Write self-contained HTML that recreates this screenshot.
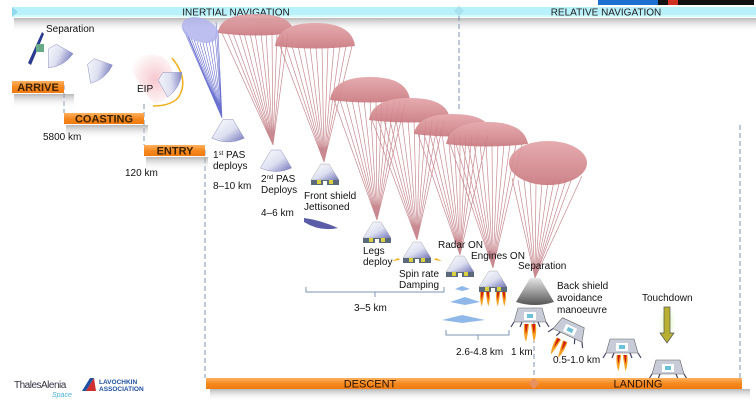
<!DOCTYPE html>
<html><head><meta charset="utf-8"><style>
html,body{margin:0;padding:0;background:#fff;}
svg{display:block;font-family:"Liberation Sans",Arial,sans-serif;}
</style></head><body>
<svg width="756" height="409" viewBox="0 0 756 409" xmlns="http://www.w3.org/2000/svg">
<defs>
<linearGradient id="cap" x1="0" y1="0" x2="1" y2="1">
<stop offset="0" stop-color="#ffffff"/><stop offset="0.55" stop-color="#dcdff0"/><stop offset="1" stop-color="#6f72b8"/></linearGradient>
<linearGradient id="grey" x1="0" y1="0" x2="0" y2="1">
<stop offset="0" stop-color="#e6e6e6"/><stop offset="1" stop-color="#555"/></linearGradient>
<linearGradient id="cano" x1="0" y1="0" x2="0" y2="1">
<stop offset="0" stop-color="#e3a3a7"/><stop offset="1" stop-color="#c9777e"/></linearGradient>
<linearGradient id="orb" x1="0" y1="0" x2="0" y2="1">
<stop offset="0" stop-color="#ffb060"/><stop offset="0.5" stop-color="#f58a1f"/><stop offset="1" stop-color="#f07a10"/></linearGradient>
<linearGradient id="shad" x1="0" y1="0" x2="0" y2="1">
<stop offset="0" stop-color="#999" stop-opacity="0.7"/><stop offset="1" stop-color="#fff" stop-opacity="0"/></linearGradient>
<radialGradient id="eip" cx="0.6" cy="0.5" r="0.6"><stop offset="0" stop-color="#f6c8cf"/><stop offset="1" stop-color="#fff"/></radialGradient>
<radialGradient id="glow"><stop offset="0" stop-color="#c8f08a"/><stop offset="1" stop-color="#fff" stop-opacity="0"/></radialGradient>
<g id="capsule"><path d="M-4,-10 L4,-10 L13,5 Q0,11 -13,5 Z" fill="url(#cap)" stroke="#8a8cc0" stroke-width="0.4"/></g>
<g id="capleg"><path d="M-4,-12 L4,-12 L14,4 L-14,4 Z" fill="url(#cap)" stroke="#999" stroke-width="0.4"/><rect x="-14" y="4" width="28" height="5" fill="#5a6a7a"/><rect x="-8" y="4" width="4" height="4" fill="#d8d040"/><rect x="4" y="4" width="4" height="4" fill="#d8d040"/><rect x="-2" y="5" width="4" height="5" fill="#fff"/></g>
<g id="lander"><path d="M-12,-8 L12,-8 L16,6 L-16,6 Z" fill="#c8ccd8" stroke="#666" stroke-width="0.6"/><rect x="-6" y="-4" width="12" height="8" fill="#fff"/><rect x="-3" y="-2" width="6" height="4" fill="#6cc0d8"/><path d="M-16,6 l-3,5 M16,6 l3,5 M-8,6 l-2,5 M8,6 l2,5" stroke="#446" stroke-width="1.2"/></g>
<g id="flame"><path d="M-6,0 Q-7,10 -4,18 Q-2,10 -1,0 Z M1,0 Q2,10 4,18 Q7,10 6,0 Z" fill="#f5a020"/><path d="M-5,0 Q-5,6 -4,10 Q-3,6 -2,0Z M2,0 Q3,6 4,10 Q5,6 5,0Z" fill="#d02010"/></g>
</defs>

<rect x="598" y="0" width="156" height="5" fill="#111"/><rect x="598" y="0" width="60" height="5" fill="#1a6fd0"/><rect x="668" y="0" width="10" height="5" fill="#d03020"/>

<rect x="14" y="18" width="742" height="14" fill="url(#shad)"/>
<rect x="12" y="7" width="744" height="10" fill="#b8f0fb"/>
<rect x="12" y="15" width="744" height="2" fill="#dff" opacity="0.7"/>
<path d="M12,7 L18,12 L12,17Z" fill="#8fd8ee"/>
<path d="M459,6 L464,11 L459,16 L454,11Z" fill="#a8e2ef"/>
<text x="236" y="15.5" font-size="10" text-anchor="middle" fill="#222">INERTIAL NAVIGATION</text>
<text x="606" y="15.5" font-size="10" text-anchor="middle" fill="#222">RELATIVE NAVIGATION</text>

<g stroke="#7d95b5" stroke-width="1" stroke-dasharray="5,3" fill="none">
<path d="M64,85 V113"/><path d="M144,104 V145"/><path d="M205,150 V378"/><path d="M459,16 V110"/><path d="M740,125 V378"/><path d="M534,322 V378"/>
</g>

<rect x="14" y="94" width="60" height="14" fill="url(#shad)"/>
<rect x="66" y="125" width="82" height="14" fill="url(#shad)"/>
<rect x="146" y="157" width="62" height="14" fill="url(#shad)"/>
<rect x="12" y="81" width="52" height="12" fill="url(#orb)"/>
<text x="38" y="91" font-size="11" font-weight="bold" text-anchor="middle" fill="#3a2200">ARRIVE</text>
<rect x="64" y="113" width="80" height="11" fill="url(#orb)"/>
<text x="104" y="122.5" font-size="11" font-weight="bold" text-anchor="middle" fill="#3a2200">COASTING</text>
<rect x="144" y="145" width="61" height="11" fill="url(#orb)"/>
<text x="175" y="154.5" font-size="11" font-weight="bold" text-anchor="middle" fill="#3a2200">ENTRY</text>

<path d="M28,63 L42,32 L44,34 L31,65Z" fill="#2a3a90"/>
<rect x="36" y="44" width="8" height="8" fill="#6a8" />
<use href="#capsule" transform="translate(58,56) rotate(-30) scale(1.1)"/>
<use href="#capsule" transform="translate(98,70) rotate(-40) scale(1.1)"/>
<path d="M128,60 Q165,45 172,70 Q178,98 155,104 Q140,90 128,60Z" fill="url(#eip)"/>
<path d="M172,58 Q190,80 178,98 Q170,106 153,106" stroke="#f0b020" stroke-width="1.5" fill="none"/>
<use href="#capsule" transform="translate(170,82) rotate(-60) scale(1.1)"/>

<g stroke="#6a70d0" stroke-width="0.6" fill="none">
<path d="M183,28 L222,118 M186,32 L222,118 M188,35 L222,118 M191,38 L222,118 M194,40 L222,118 M197,42 L222,118 M200,43 L222,118 M203,43 L222,118 M206,42 L222,118 M209,40 L222,118 M212,38 L222,118 M215,34 L222,118 M218,30 L222,118 M216,22 L222,118"/>
</g>
<ellipse cx="200" cy="30" rx="19" ry="12" fill="#b0b4ec" opacity="0.85" transform="rotate(20 200 30)"/>
<use href="#capsule" transform="translate(228,132) scale(1.25)"/>

<g stroke="#c88a90" stroke-width="0.7" fill="none">
<path d="M222,33L273,145M228,33L273,145M233,33L273,145M239,33L273,145M244,33L273,145M250,33L273,145M255,33L273,145M261,33L273,145M266,33L273,145M272,33L273,145M277,33L273,145M283,33L273,145M288,33L273,145"/>
<path d="M280,46L324,162M286,46L324,162M292,46L324,162M298,46L324,162M304,46L324,162M310,46L324,162M316,46L324,162M322,46L324,162M328,46L324,162M334,46L324,162M340,46L324,162M346,46L324,162M352,46L324,162"/>
<path d="M334,100L377,220M340,100L377,220M346,100L377,220M352,100L377,220M358,100L377,220M364,100L377,220M370,100L377,220M376,100L377,220M382,100L377,220M388,100L377,220M394,100L377,220M400,100L377,220M406,100L377,220"/>
<path d="M372,120L417,240M378,120L417,240M384,120L417,240M390,120L417,240M396,120L417,240M402,120L417,240M408,120L417,240M414,120L417,240M420,120L417,240M426,120L417,240M432,120L417,240M438,120L417,240M444,120L417,240"/>
<path d="M418,134L460,255M424,134L460,255M430,134L460,255M436,134L460,255M442,134L460,255M448,134L460,255M454,134L460,255M460,134L460,255M466,134L460,255M472,134L460,255M478,134L460,255M488,134L460,255"/>
<path d="M450,144L493,268M456,144L493,268M462,144L493,268M468,144L493,268M474,144L493,268M480,144L493,268M486,144L493,268M492,144L493,268M498,144L493,268M504,144L493,268M510,144L493,268M516,144L493,268M522,144L493,268"/>
<path d="M512,178L535,278M518,180L535,278M524,180L535,278M530,181L535,278M536,182L535,278M542,182L535,278M548,182L535,278M554,181L535,278M560,180L535,278M566,180L535,278M572,178L535,278M582,176L535,278"/>
</g>
<g fill="url(#cano)" opacity="0.9">
<path d="M218,33 Q220,14 256,14 Q292,14 294,33 Q256,38 218,33Z"/>
<path d="M275,46 Q278,23 315,23 Q352,23 355,46 Q315,51 275,46Z"/>
<path d="M330,100 Q333,77 370,77 Q407,77 410,100 Q370,105 330,100Z"/>
<path d="M369,120 Q372,98 410,98 Q448,98 450,120 Q410,125 369,120Z"/>
<path d="M414,134 Q417,114 453,114 Q489,114 492,134 Q453,139 414,134Z"/>
<path d="M446,144 Q450,122 487,122 Q524,122 528,144 Q487,149 446,144Z"/>
<ellipse cx="548" cy="163" rx="39" ry="22"/>
</g>

<use href="#capsule" transform="translate(276,162) scale(1.2)"/>
<use href="#capleg" transform="translate(325,176)"/>
<path d="M304,218 Q320,220 338,228 Q320,232 304,222Z" fill="#5a5ca8"/>
<use href="#capleg" transform="translate(377,234)"/>
<use href="#capleg" transform="translate(417,254)"/>
<path d="M398,258 l-6,3 l8,-1Z M436,258 l6,3 l-8,-1Z" fill="#f0b020"/>
<use href="#capleg" transform="translate(460,268)"/>
<use href="#capleg" transform="translate(493,283)"/>
<use href="#flame" transform="translate(485,292) scale(0.8)"/>
<use href="#flame" transform="translate(501,292) scale(0.8)"/>
<path d="M530,278 L540,278 L554,302 Q535,308 516,302Z" fill="url(#grey)"/>
<g fill="#8fb8e8"><path d="M455,289 L462,286 L470,289 L462,291Z"/><path d="M450,302 L465,297 L480,302 L465,305Z"/><path d="M442,320 L462,315 L485,320 L462,323Z"/></g>
<use href="#lander" transform="translate(530,316)"/><use href="#flame" transform="translate(530,324)"/>
<use href="#lander" transform="translate(570,330) rotate(25)"/><use href="#flame" transform="translate(562,340) rotate(25)"/>
<use href="#lander" transform="translate(622,347)"/><use href="#flame" transform="translate(622,355) scale(0.9)"/>
<use href="#lander" transform="translate(668,368)"/>
<ellipse cx="667" cy="322" rx="10" ry="22" fill="url(#glow)"/>
<path d="M664,307 H670 V333 H674 L667,343 L660,333 H664Z" fill="#b8b030" stroke="#555" stroke-width="0.7"/>

<g stroke="#7d95b5" stroke-width="1" fill="none">
<path d="M306,287 V292 H444 V287 M375,292 V297"/>
<path d="M446,330 V335 H509 V330 M478,335 V340"/>
</g>

<rect x="210" y="389" width="540" height="12" fill="url(#shad)"/>
<rect x="206" y="378" width="536" height="11" fill="url(#orb)"/>
<path d="M534,378 L539,383.5 L534,389 L529,383.5Z" fill="#e89060"/>
<text x="370" y="387.5" font-size="11" text-anchor="middle" fill="#2a1400">DESCENT</text>
<text x="638" y="387.5" font-size="11" text-anchor="middle" fill="#2a1400">LANDING</text>

<g font-size="10" fill="#111">
<text x="46" y="32">Separation</text>
<text x="137" y="92">EIP</text>
<text x="43" y="140">5800 km</text>
<text x="125" y="176">120 km</text>
<text x="213" y="158">1<tspan font-size="6" dy="-3">st</tspan><tspan dy="3"> PAS</tspan></text>
<text x="213" y="169">deploys</text>
<text x="213" y="189">8–10 km</text>
<text x="261" y="182">2<tspan font-size="6" dy="-3">nd</tspan><tspan dy="3"> PAS</tspan></text>
<text x="261" y="193">Deploys</text>
<text x="261" y="216">4–6 km</text>
<text x="304" y="199">Front shield</text>
<text x="304" y="210">Jettisoned</text>
<text x="363" y="254">Legs</text>
<text x="363" y="265">deploy</text>
<text x="399" y="277">Spin rate</text>
<text x="399" y="288">Damping</text>
<text x="438" y="248">Radar ON</text>
<text x="471" y="259">Engines ON</text>
<text x="518" y="269">Separation</text>
<text x="557" y="289">Back shield</text>
<text x="557" y="301">avoidance</text>
<text x="557" y="313">manoeuvre</text>
<text x="642" y="301">Touchdown</text>
<text x="354" y="311">3–5 km</text>
<text x="456" y="355">2.6-4.8 km</text>
<text x="511" y="355">1 km</text>
<text x="553" y="363">0.5-1.0 km</text>
</g>

<text x="14" y="388" font-size="10" fill="#334" letter-spacing="-0.5">ThalesAlenia</text>
<text x="52" y="397" font-size="7" fill="#4ab0d8" font-style="italic">Space</text>
<path d="M82,391 L90,378 L94,378 L86,391Z" fill="#2050a0"/><path d="M86,391 L94,378 L96,391Z" fill="#d03030"/>
<text x="99" y="384" font-size="6.5" font-weight="bold" fill="#2050a0">LAVOCHKIN</text>
<text x="99" y="391" font-size="6.5" font-weight="bold" fill="#2050a0">ASSOCIATION</text>
</svg>
</body></html>
